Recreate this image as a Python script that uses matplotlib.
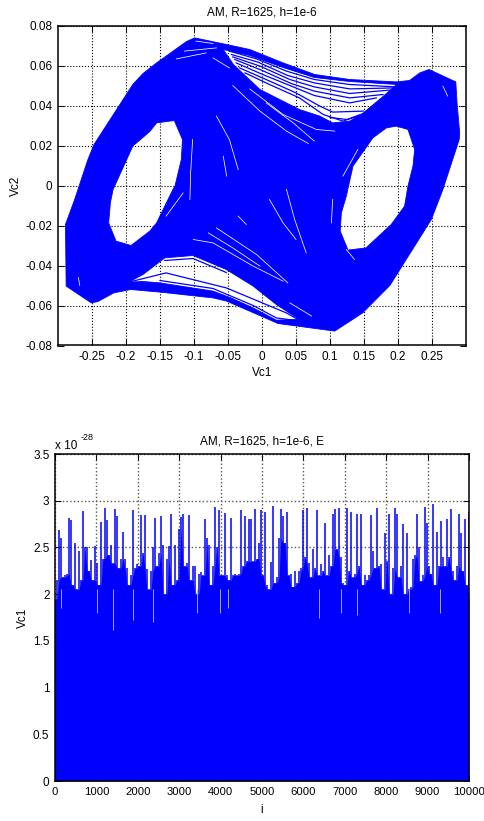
import numpy as np
import matplotlib
matplotlib.use('Agg')
import matplotlib.pyplot as plt
from matplotlib.path import Path
from matplotlib.patches import PathPatch

plt.rcParams['font.family'] = ['Liberation Sans', 'DejaVu Sans']
plt.rcParams['font.size'] = 8.5
plt.rcParams['axes.unicode_minus'] = False

# top plot, Vc1 / Vc2 attractor
outer_x = [-0.288, -0.289, -0.2755, -0.256, -0.247, -0.19, -0.175, -0.155, -0.111, -0.099, -0.052, -0.018, 0.031,
           0.0775, 0.129, 0.1975, 0.217, 0.232, 0.2456, 0.285, 0.2868, 0.2907, 0.29, 0.266, 0.249, 0.188, 0.148,
           0.107, 0.0235, -0.052, -0.072, -0.15, -0.193, -0.218, -0.2412, -0.251]
outer_y = [-0.0503, -0.0195, -0.007, 0.013, 0.0205, 0.0505, 0.056, 0.0613, 0.072, 0.0738, 0.0705, 0.068, 0.0613,
           0.0555, 0.053, 0.0518, 0.0525, 0.0563, 0.058, 0.0518, 0.0413, 0.0263, 0.023, -0.002, -0.017, -0.05, -0.0637,
           -0.0728, -0.069, -0.0578, -0.0562, -0.0533, -0.052, -0.0537, -0.058, -0.0587]

left_hole_x = [-0.155, -0.129, -0.117, -0.1186, -0.128, -0.131, -0.155, -0.165, -0.1926, -0.2147, -0.2255, -0.223,
               -0.219, -0.19, -0.165]
left_hole_y = [0.0313, 0.0325, 0.023, 0.013, -0.0003, -0.002, -0.0187, -0.0228, -0.03, -0.0278, -0.0187, -0.0087,
               -0.002, 0.0197, 0.027]
right_hole_x = [0.1975, 0.2147, 0.2245, 0.222, 0.2147, 0.2097, 0.19, 0.153, 0.1265, 0.115, 0.1167, 0.124, 0.1338,
                0.163, 0.183]
right_hole_y = [0.0297, 0.028, 0.018, 0.0097, -0.0003, -0.0103, -0.0195, -0.0312, -0.0323, -0.0228, -0.0137, -0.0053,
                0.0097, 0.0238, 0.0288]
upper_gap_x = [-0.057, -0.018, 0.031, 0.077, 0.129, 0.198, 0.178, 0.149, 0.129, 0.104, 0.085, 0.055, -0.003, -0.042]
upper_gap_y = [0.068, 0.065, 0.059, 0.054, 0.052, 0.0505, 0.0445, 0.0363, 0.0322, 0.0313, 0.0347, 0.038, 0.048, 0.0605]
lower_gap_x = [-0.1956, -0.175, -0.143, -0.1015, -0.0525, -0.013, 0.021, 0.055, 0.021, -0.013, -0.047, -0.072, -0.15,
               -0.175]
lower_gap_y = [-0.0483, -0.0445, -0.0362, -0.035, -0.042, -0.0503, -0.0595, -0.067, -0.0673, -0.0612, -0.056, -0.0528,
               -0.0487, -0.048]

# single trajectories crossing the two gaps
strand_x = [[-0.048, -0.008, 0.036, 0.077, 0.129, 0.198],
            [-0.045, -0.006, 0.038, 0.077, 0.129, 0.195],
            [-0.043, -0.003, 0.041, 0.077, 0.129, 0.188],
            [-0.04, -0.001, 0.043, 0.077, 0.129, 0.178],
            [-0.038, 0.001, 0.046, 0.077, 0.129, 0.168],
            [-0.033, 0.006, 0.05, 0.085, 0.104, 0.149],
            [-0.025, 0.011, 0.055, 0.09, 0.119, 0.141],
            [0.1, 0.125, 0.145],
            [-0.1956, -0.1412, -0.0525, 0.0358, 0.053],
            [-0.143, -0.1015, -0.0525],
            [-0.15, -0.072, -0.013, 0.021, 0.05]]
strand_y = [[0.0672, 0.0633, 0.0572, 0.053, 0.0505, 0.0493],
            [0.0655, 0.0617, 0.055, 0.0513, 0.0483, 0.0488],
            [0.0643, 0.0597, 0.053, 0.0493, 0.046, 0.0477],
            [0.063, 0.0577, 0.051, 0.0472, 0.0438, 0.0455],
            [0.0613, 0.0555, 0.0493, 0.045, 0.0413, 0.0438],
            [0.0588, 0.053, 0.0463, 0.0397, 0.0367, 0.0372],
            [0.0563, 0.0505, 0.0438, 0.0355, 0.0322, 0.0347],
            [0.034, 0.033, 0.0355],
            [-0.0483, -0.0437, -0.0512, -0.0637, -0.067],
            [-0.0375, -0.0365, -0.0435],
            [-0.0475, -0.0515, -0.06, -0.0662, -0.0675]]

# thin white slivers left open inside the blue band
sliver_x = [[-0.043, -0.003, 0.036, 0.068], [-0.018, 0.031, 0.08, 0.107], [0.006, 0.046, 0.077],
            [-0.102, -0.105, -0.106], [-0.067, -0.048, -0.035], [-0.057, -0.052], [0.011, 0.031, 0.05],
            [0.036, 0.048, 0.065], [0.104, 0.102], [0.141, 0.119], [-0.067, -0.008, 0.038],
            [-0.079, -0.043, -0.003], [-0.101, -0.072, -0.013, 0.031], [-0.035, -0.023], [0.041, 0.073],
            [-0.116, -0.141], [0.124, 0.136], [-0.126, -0.082], [-0.114, -0.067], [-0.097, -0.072],
            [-0.072, -0.048], [0.266, 0.273], [-0.27, -0.268]]
sliver_y = [[0.05, 0.0372, 0.0272, 0.021], [0.0483, 0.0355, 0.028, 0.0272], [0.0413, 0.0313, 0.0222],
            [0.023, 0.0063, -0.007], [0.0347, 0.023, 0.008], [0.0147, 0.0047], [-0.007, -0.0187, -0.027],
            [-0.002, -0.017, -0.0337], [-0.007, -0.0187], [0.018, 0.0047], [-0.0212, -0.0345, -0.0487],
            [-0.0237, -0.0312, -0.0403], [-0.027, -0.0287, -0.0403, -0.0478], [-0.0153, -0.0195], [-0.0587, -0.0653],
            [-0.0037, -0.0153], [-0.032, -0.037], [0.0633, 0.0663], [0.0672, 0.0688], [0.0722, 0.071],
            [0.0638, 0.0588], [0.0497, 0.0447], [-0.046, -0.05]]

# bottom plot, top of the spikes (units of 1e-28), one value per 2 pixels of the trace
env_v = [1.95, 2.15, 2.69, 2.6, 2.18, 2.2, 2.22, 2.82, 2.79, 2.1,
         2.55, 2.05, 2.46, 2.15, 2.89, 2.5, 2.5, 2.25, 2.37, 2.15,
         2.52, 2.33, 2.1, 2.77, 2.38, 2.92, 2.79, 2.42, 2.53, 2.33,
         2.91, 2.84, 2.28, 2.38, 2.66, 2.38, 2.28, 2.1, 2.2, 2.9,
         2.28, 2.32, 2.3, 2.85, 2.44, 2.85, 2.27, 2.05, 2.25, 2.5,
         2.82, 2.3, 2.44, 2.84, 2.53, 2.0, 2.38, 2.52, 2.86, 2.1,
         2.53, 2.15, 2.7, 2.83, 2.86, 2.3, 2.33, 2.85, 2.15, 2.3,
         2.3, 2.0, 2.22, 2.24, 2.2, 2.8, 2.6, 2.53, 2.1, 2.3,
         2.93, 2.5, 2.9, 2.2, 2.2, 2.87, 2.2, 2.15, 2.82, 2.2,
         2.22, 2.2, 2.22, 2.9, 2.3, 2.84, 2.35, 2.8, 2.8, 2.35,
         2.91, 2.38, 2.55, 2.9, 2.2, 2.88, 2.1, 2.05, 2.34, 2.94,
         2.12, 2.18, 2.6, 2.91, 2.84, 2.55, 2.88, 2.2, 2.22, 2.08,
         2.25, 2.12, 2.25, 2.28, 2.9, 2.4, 2.92, 2.33, 2.18, 2.48,
         2.28, 2.9, 2.2, 2.32, 2.25, 2.76, 2.2, 2.42, 2.3, 2.86,
         2.91, 2.48, 2.92, 2.4, 2.12, 2.1, 2.92, 2.25, 2.88, 2.18,
         2.22, 2.86, 2.3, 2.86, 2.1, 2.2, 2.15, 2.2, 2.85, 2.46,
         2.28, 2.92, 2.3, 2.32, 2.05, 2.65, 2.36, 2.86, 2.0, 2.28,
         2.92, 2.86, 2.18, 2.3, 2.75, 2.0, 2.65, 2.05, 2.08, 2.38,
         2.42, 2.86, 2.5, 2.14, 2.2, 2.93, 2.76, 2.3, 2.22, 2.96,
         2.1, 2.67, 2.3, 2.78, 2.4, 2.3, 2.8, 2.4, 2.91, 2.25,
         2.15, 2.3, 2.86, 2.65, 2.25, 2.8, 2.1, 2.88]
# narrow dips that reach down into the solid part
dip_i = [140, 1010, 1390, 1880, 2370, 3440, 3980, 4170, 6380, 6920, 7300, 8560, 9300]
dip_v = [1.85, 1.8, 1.62, 1.72, 1.7, 1.8, 1.8, 1.85, 1.75, 1.8, 1.78, 1.8, 1.8]

xt1 = [-0.25, -0.2, -0.15, -0.1, -0.05, 0, 0.05, 0.1, 0.15, 0.2, 0.25]
xt1_lab = ['-0.25', '-0.2', '-0.15', '-0.1', '-0.05', '0', '0.05', '0.1', '0.15', '0.2', '0.25']
yt1 = [-0.08, -0.06, -0.04, -0.02, 0, 0.02, 0.04, 0.06, 0.08]
yt1_lab = ['-0.08', '-0.06', '-0.04', '-0.02', '0', '0.02', '0.04', '0.06', '0.08']
xt2 = [0, 1000, 2000, 3000, 4000, 5000, 6000, 7000, 8000, 9000, 10000]
yt2 = [0, 0.5, 1, 1.5, 2, 2.5, 3, 3.5]
yt2_lab = ['0', '0.5', '1', '1.5', '2', '2.5', '3', '3.5']

W, H = 484.0, 821.0
fig = plt.figure(figsize=(W / 100, H / 100), dpi=100)


def box(left, top, right, bottom):
    return [left / W, 1 - bottom / H, (right - left) / W, (bottom - top) / H]


def style(ax):
    ax.grid(True, color='black', linestyle=':', linewidth=0.8)
    ax.set_axisbelow(True)
    ax.tick_params(direction='in', top=True, right=True, length=4, width=0.7, pad=4, labelsize=8.5)
    for s in ax.spines.values():
        s.set_linewidth(1.1)
        s.set_zorder(5)


def ring(xs, ys, hole=False):
    # holes have to run the other way round than the outline
    pts = np.column_stack([xs, ys])
    area = np.sum(pts[:, 0] * np.roll(pts[:, 1], -1) - np.roll(pts[:, 0], -1) * pts[:, 1])
    if (area > 0) == hole:
        pts = pts[::-1]
    return pts


ax1 = fig.add_axes(box(58, 25.5, 466, 345.5))
verts, codes = [], []
rings = [ring(outer_x, outer_y)]
for hx, hy in [(left_hole_x, left_hole_y), (right_hole_x, right_hole_y),
               (upper_gap_x, upper_gap_y), (lower_gap_x, lower_gap_y)]:
    rings.append(ring(hx, hy, hole=True))
for r in rings:
    verts += list(r) + [r[0]]
    codes += [Path.MOVETO] + [Path.LINETO] * (len(r) - 1) + [Path.CLOSEPOLY]
ax1.add_patch(PathPatch(Path(verts, codes), facecolor='#0000ff', edgecolor='#0000ff', linewidth=0.6, zorder=2))
for sx, sy in zip(strand_x, strand_y):
    ax1.plot(sx, sy, color='#0000ff', linewidth=0.9, zorder=3)
for sx, sy in zip(sliver_x, sliver_y):
    ax1.plot(sx, sy, color='white', linewidth=0.55, zorder=3)
ax1.set_xlim(-0.3, 0.3)
ax1.set_ylim(-0.08, 0.08)
ax1.set_xticks(xt1, xt1_lab)
ax1.set_yticks(yt1, yt1_lab)
style(ax1)
ax1.set_title('AM, R=1625, h=1e-6', fontsize=8.5, pad=7)
ax1.set_xlabel('Vc1', va='center')
ax1.xaxis.set_label_coords(0.5, -27.5 / 320)
ax1.set_ylabel('Vc2', va='center')
ax1.yaxis.set_label_coords(-42.0 / 408, 0.5)

ax2 = fig.add_axes(box(55, 454, 469, 781))
env_i = np.linspace(0, 10000, len(env_v))
env_arr = np.array(env_v)
# solid part up to the lower neighbour, thin spike on top of it
solid = np.minimum(env_arr, np.minimum(np.roll(env_arr, 1), np.roll(env_arr, -1)))
ax2.fill_between(env_i, 0, solid, color='#0000ff', linewidth=0, zorder=2)
ax2.vlines(env_i, 0, env_arr, color='#0000ff', linewidth=1.1, zorder=2)
ax2.vlines(dip_i, dip_v, 2.05, color='#a8a8ff', linewidth=0.7, zorder=3)
ax2.set_xlim(0, 10000)
ax2.set_ylim(0, 3.5)
ax2.set_xticks(xt2, [str(v) for v in xt2])
ax2.set_yticks(yt2, yt2_lab)
style(ax2)
ax2.tick_params(axis='x', labelsize=8.1)
ax2.grid(True, color='#555555', linestyle=':', linewidth=1.0)
ax2.set_title('AM, R=1625, h=1e-6, E', fontsize=8.5, pad=7)
ax2.set_xlabel('i', va='center')
ax2.xaxis.set_label_coords(0.5, -28.5 / 327)
ax2.set_ylabel('Vc1', va='center')
ax2.yaxis.set_label_coords(-32.0 / 414, 0.5)
# the exponent above the axis
ax2.text(0, 1 + 8.0 / 327, 'x 10', transform=ax2.transAxes, ha='left', va='center', fontsize=8.5)
ax2.text(26.0 / 414, 1 + 17.0 / 327, '-28', transform=ax2.transAxes, ha='left', va='center', fontsize=6.5)

fig.savefig('out.png', dpi=100)
